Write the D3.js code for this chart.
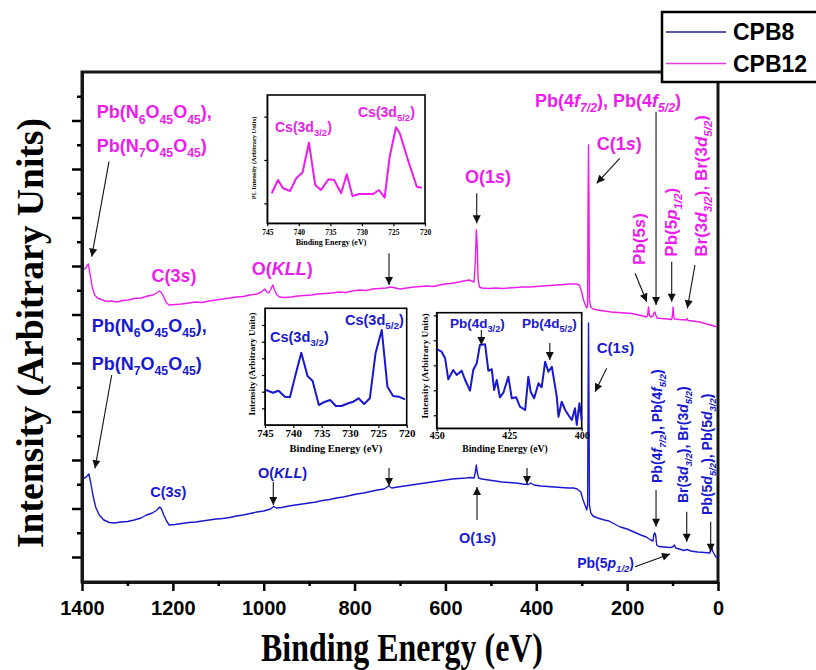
<!DOCTYPE html>
<html><head><meta charset="utf-8">
<script src="https://cdn.jsdelivr.net/npm/d3@7"></script>
<style>body{margin:0;background:#fff}svg{display:block}</style>
</head><body>
<svg id="c" width="816" height="670"></svg>
<script>
// ---------------- DATA ----------------
const seriesNames = ["CPB8", "CPB12"];
// survey spectra: [binding energy (eV), intensity (arb. units)]
const cpb12Survey = [[1398,312],[1392,314],[1386,318],[1382,307],[1377,294],[1372,287],[1366,284],[1355,282],[1345,280.5],[1335,281],[1322,280],[1310,281.5],[1298,282],[1285,283.5],[1270,284],[1255,286],[1244,287],[1236,289],[1230,291],[1226,290],[1220,285],[1214,279],[1208,277],[1195,277.5],[1180,278],[1165,279],[1150,280],[1135,279.5],[1120,281],[1105,282],[1090,283],[1075,284],[1060,285],[1045,285.5],[1030,287],[1015,288],[1005,290],[998,293],[993,290],[989,289],[985,292],[980,297],[976,292],[971,287],[965,285],[955,284.5],[940,285],[925,286],[910,286.5],[895,287],[880,288],[865,288.5],[850,289],[835,290],[820,289.5],[805,291],[790,292],[775,291.5],[760,293],[745,293.5],[730,294],[722,295],[715,294.5],[700,293],[685,294],[670,295],[655,295.5],[640,296],[627,295.5],[612,297],[600,298],[590,298.5],[575,299.5],[560,301],[548,302],[542,301],[537,300],[534,322],[532,352],[530,337],[528,302],[525,295],[520,294],[505,293.5],[490,294],[475,293.5],[460,294],[445,294.5],[430,295],[415,295],[400,295.5],[385,296],[370,296.5],[355,297],[340,297.5],[325,298],[312,298],[305,297],[300,290],[296,282],[292,277],[289,274],[287,276],[286,382],[285,437],[284,382],[283,282],[280,275],[275,273],[265,272],[250,271],[235,270],[220,269.5],[205,269],[190,268.5],[175,267],[165,266],[158,265],[155,266],[153,275],[151,267],[148,265],[143,266],[141,269],[139,270],[137,267],[134,264],[125,263.5],[110,263],[102,262.5],[100,267],[99,275],[97,264],[95,263],[85,262.5],[70,262],[68,263.5],[66,261.5],[55,261],[40,260],[25,258],[12,256.5],[3,255]];
const cpb8Survey = [[1398,105],[1393,104],[1389,106],[1385,108],[1381,100],[1376,87],[1370,75],[1362,67],[1352,62],[1340,59.5],[1328,59],[1315,60],[1300,60.5],[1285,62],[1270,64],[1258,67],[1245,69],[1235,72],[1229,75],[1225,73],[1220,67],[1214,61],[1208,57],[1195,57.5],[1180,58.5],[1165,59.5],[1150,60],[1135,61],[1120,62],[1105,63],[1090,63.5],[1075,64.5],[1060,66],[1045,67],[1030,68.5],[1015,70],[1000,71],[985,73],[978,75.5],[972,74],[960,74.5],[945,76],[930,77],[915,78],[900,79],[885,80],[870,81.5],[855,82.5],[840,84],[825,85],[810,86.5],[795,88],[780,89],[765,90.5],[750,92],[735,93],[725,96],[718,94],[705,95],[690,96],[675,97],[660,98],[645,99],[630,100],[615,101],[600,102],[585,103],[570,103.5],[555,104],[545,104.5],[537,104],[534,110],[532,117],[530,110],[527,104],[520,103],[505,102],[490,101],[475,100],[460,99.5],[445,99],[430,98],[418,97.5],[412,99],[405,97],[390,96],[375,95.5],[360,95],[345,94.5],[330,94],[318,94],[310,93],[302,90],[297,82],[292,76],[289,72],[287,77],[286,182],[285,259],[284,182],[283,77],[280,69],[275,66],[265,64],[250,62],[240,61],[228,58],[215,55],[200,53],[185,50],[170,47],[158,45],[148,42],[143,41],[141,48],[139,49],[137,46],[135,37],[130,35.5],[118,35],[105,34.5],[100,35],[96,37],[93,34],[85,33],[75,31.5],[68,32.5],[60,31],[45,30],[30,29.5],[18,29],[16,33],[14,36],[12,31],[6,26],[2,24]];
// high-resolution insets
const cpb12Cs3d = [[744.3,30],[743.3,43.3],[742.5,35],[741.4,32.3],[740.4,45],[739.4,51],[738.4,80.6],[737.4,38.3],[736.5,33.3],[735.3,44],[734.4,43.3],[733.3,30],[732.4,49],[731.5,27.3],[730.4,29.3],[728.2,29.3],[727.3,33.3],[726.4,25.6],[725.6,66.6],[724.6,96],[724.0,90],[722.7,63.3],[721.3,36.6],[720.5,35.6]];
const cpb8Cs3d = [[744.8,35],[743.6,32.3],[742.6,34.3],[741.5,28.3],[740.6,27.7],[739.7,48.3],[738.6,72.3],[737.5,49],[736.6,44],[735.5,20],[734.4,23.3],[733.5,25],[732.5,19],[731.5,19],[730.3,21.7],[729.4,23.3],[728.5,26.7],[727.5,21],[726.5,26.7],[725.5,71.7],[724.4,95],[723.4,38.3],[722.4,29],[721.4,28.3],[720.3,25.7]];
const cpb8Pb4d = [[449.8,79],[448.3,76.6],[447.1,70],[446,49],[444.3,58.3],[443.1,53.3],[441.4,57.6],[440.2,48.3],[438.5,37.6],[437.4,58.3],[436.2,65],[435.1,83.3],[433.3,84],[432.2,57.6],[431,59],[430.2,38.3],[429.3,48.3],[428.2,31],[427,35.6],[425.3,51.6],[424.1,30],[422.6,31],[421.3,21.6],[419.5,18.3],[418.4,51.6],[417.6,36.6],[416.4,30],[414.9,45],[413.8,41],[412.6,66.6],[411.5,56.6],[410.3,61.6],[408.6,31.6],[408,11.6],[406.9,26.6],[405.7,18.3],[404.6,13.3],[403.4,8.3],[402.3,20],[401.7,3.3],[400.8,25],[400,8.3]];
const xTickLabels = [1400, 1200, 1000, 800, 600, 400, 200, 0];
const xMinorTicks = [1300, 1100, 900, 700, 500, 300, 100];
const csTickLabels = [745, 740, 735, 730, 725, 720];
const pbTickLabels = [450, 425, 400];

// ---------------- STYLE / LAYOUT ----------------
const BLUE = "#1818d2", MAG = "#ec1cec", BLUE_LEG = "#22228c", MAG_LEG = "#e03ce0";
const INK = "#161616";
const SANS = "'Liberation Sans', Arial, sans-serif";
const SERIF = "'Liberation Serif', 'Times New Roman', serif";
const svg = d3.select("#c");
const M = {l: 82, r: 718, t: 72, b: 582};
const x = d3.scaleLinear().domain([1400, 0]).range([M.l, M.r]);
const y = d3.scaleLinear().domain([0, 510]).range([M.b, M.t]);

// plot frame
svg.append("rect").attr("x", M.l).attr("y", M.t).attr("width", M.r - M.l).attr("height", M.b - M.t)
  .attr("fill", "none").attr("stroke", INK).attr("stroke-width", 3);

svg.append("defs").append("marker")
  .attr("id", "ah").attr("viewBox", "0 0 10 10").attr("refX", 10).attr("refY", 5)
  .attr("markerWidth", 10).attr("markerHeight", 8).attr("markerUnits", "userSpaceOnUse")
  .attr("orient", "auto")
  .append("path").attr("d", "M0,0 L10,5 L0,10 z").attr("fill", "#111");

function rich(sel, str, size) {
  const re = /<(sub|i|isub)>(.*?)<\/\1>|([^<]+)/g;
  let m, shift = 0;
  const sub = size * 0.3;
  while ((m = re.exec(str))) {
    let txt, target = 0, fs = size, it = false;
    if (m[3] !== undefined) txt = m[3];
    else {
      txt = m[2];
      if (m[1] === "i") it = true;
      if (m[1] === "sub" || m[1] === "isub") { target = sub; fs = size * 0.68; }
      if (m[1] === "isub") it = true;
    }
    const t = sel.append("tspan").attr("dy", target - shift).attr("font-size", fs).text(txt);
    if (it) t.attr("font-style", "italic");
    shift = target;
  }
  return sel;
}
function label(g, str, px, py, size, color, opt = {}) {
  const t = g.append("text").attr("font-family", opt.family || SANS)
    .attr("font-weight", opt.weight || "bold").attr("fill", color)
    .attr("text-anchor", opt.anchor || "start");
  if (opt.rotate) t.attr("transform", `translate(${px},${py}) rotate(-90)`);
  else t.attr("x", px).attr("y", py);
  rich(t, str, size);
  return t;
}
function arrow(g, x1, y1, x2, y2) {
  g.append("line").attr("x1", x1).attr("y1", y1).attr("x2", x2).attr("y2", y2)
    .attr("stroke", "#111").attr("stroke-width", 1.1).attr("marker-end", "url(#ah)");
}

// ---------------- MAIN CURVES ----------------
const curve = d3.line().x(d => x(d[0])).y(d => y(d[1]));
svg.append("path").datum(cpb12Survey).attr("d", curve).attr("fill", "none")
  .attr("stroke", MAG).attr("stroke-width", 1.4).attr("stroke-linejoin", "round");
svg.append("path").datum(cpb8Survey).attr("d", curve).attr("fill", "none")
  .attr("stroke", BLUE).attr("stroke-width", 1.4).attr("stroke-linejoin", "round");

// ---------------- AXES ----------------
const axG = svg.append("g");
const xAx = axG.append("g").attr("transform", `translate(0,${M.b})`)
  .call(d3.axisBottom(x).tickValues(xTickLabels).tickSize(9).tickSizeOuter(0).tickPadding(10).tickFormat(d3.format("d")));
axG.append("g").attr("transform", `translate(0,${M.b})`)
  .call(d3.axisBottom(x).tickValues(xMinorTicks).tickSize(4).tickSizeOuter(0).tickFormat(""));
const yMajor = d3.range(25, 500, 48.5), yMinor = d3.range(49.25, 505, 48.5);
axG.append("g").attr("transform", `translate(${M.l},0)`)
  .call(d3.axisLeft(y).tickValues(yMajor).tickSize(10).tickSizeOuter(0).tickFormat(""));
axG.append("g").attr("transform", `translate(${M.l},0)`)
  .call(d3.axisLeft(y).tickValues(yMinor).tickSize(5).tickSizeOuter(0).tickFormat(""));
axG.selectAll(".domain").attr("stroke", INK).attr("stroke-width", 3);
axG.selectAll(".tick line").attr("stroke", "#000").attr("stroke-width", 2.5);
xAx.selectAll("text").attr("font-family", SANS).attr("font-weight", "bold").attr("font-size", 20).attr("fill", "#000");

svg.append("text").attr("x", 402).attr("y", 661).attr("text-anchor", "middle")
  .attr("font-family", SERIF).attr("font-weight", "bold").attr("font-size", 39)
  .attr("textLength", 282).attr("lengthAdjust", "spacingAndGlyphs").text("Binding Energy (eV)");
svg.append("text").attr("transform", "translate(43,333) rotate(-90)").attr("text-anchor", "middle")
  .attr("font-family", SERIF).attr("font-weight", "bold").attr("font-size", 37)
  .attr("textLength", 430).attr("lengthAdjust", "spacingAndGlyphs").text("Intensity (Arbitrary Units)");

// ---------------- ANNOTATIONS ----------------
const ann = svg.append("g");
label(ann, "Pb(N<sub>6</sub>O<sub>45</sub>O<sub>45</sub>),", x(1367.6), y(463.7), 18, MAG);
label(ann, "Pb(N<sub>7</sub>O<sub>45</sub>O<sub>45</sub>)", x(1367.6), y(430.3), 18, MAG);
arrow(ann, x(1340.6), y(420.3), x(1378.6), y(325.3));
label(ann, "C(3<i>s</i>)", x(1197.5), y(300.3), 18, MAG, {anchor: "middle"});
label(ann, "O(<i>KLL</i>)", x(1026.4), y(307), 18, MAG);
arrow(ann, x(724.2), y(328.7), x(724.2), y(297));
label(ann, "O(1<i>s</i>)", x(556.9), y(398.7), 18, MAG);
arrow(ann, x(531.1), y(388.7), x(531.1), y(358.7));
label(ann, "C(1<i>s</i>)", x(267), y(432), 18, MAG);
arrow(ann, x(216.4), y(423.7), x(267), y(398.7));
label(ann, "Pb(4<i>f</i><isub>7/2</isub>), Pb(4<i>f</i><isub>5/2</isub>)", x(402.8), y(475.3), 18, MAG);
arrow(ann, x(136.4), y(470.3), x(136.4), y(277));
label(ann, "Pb(5<i>s</i>)", x(160.6), y(317), 17, MAG, {rotate: true});
arrow(ann, x(182.6), y(308.7), x(156.9), y(280.3));
label(ann, "Pb(5<i>p</i><isub>1/2</isub>)", x(90.2), y(325.3), 17, MAG, {rotate: true});
arrow(ann, x(101.9), y(320.3), x(101.9), y(280.3));
label(ann, "Br(3<i>d</i><isub>3/2</isub>), Br(3<i>d</i><isub>5/2</isub>)", x(24.2), y(325.3), 17, MAG, {rotate: true});
arrow(ann, x(50.7), y(317), x(67.5), y(273.7));
label(ann, "Pb(N<sub>6</sub>O<sub>45</sub>O<sub>45</sub>),", x(1378.6), y(250.3), 18, BLUE);
label(ann, "Pb(N<sub>7</sub>O<sub>45</sub>O<sub>45</sub>)", x(1378.6), y(212), 18, BLUE);
arrow(ann, x(1334.6), y(207), x(1371.4), y(113.7));
label(ann, "C(3<i>s</i>)", x(1210), y(85.3), 14.5, BLUE, {anchor: "middle"});
label(ann, "O(<i>KLL</i>)", x(1012.6), y(103.7), 14.5, BLUE);
arrow(ann, x(978.9), y(100.3), x(978.9), y(77));
arrow(ann, x(724.2), y(114), x(724.2), y(96));
arrow(ann, x(420.4), y(114), x(420.4), y(98));
label(ann, "O(1<i>s</i>)", x(570), y(39), 14.5, BLUE);
arrow(ann, x(530.5), y(62), x(530.5), y(95));
label(ann, "C(1<i>s</i>)", x(267), y(228.7), 15, BLUE);
arrow(ann, x(245), y(213.7), x(270.7), y(190.3));
label(ann, "Pb(4<i>f</i><isub>7/2</isub>), Pb(4<i>f</i><isub>5/2</isub>)", x(123.2), y(99), 14, BLUE, {rotate: true});
arrow(ann, x(136.4), y(92), x(136.4), y(55.3));
label(ann, "Br(3<i>d</i><isub>3/2</isub>), Br(3<i>d</i><isub>5/2</isub>)", x(65.9), y(79), 14, BLUE, {rotate: true});
arrow(ann, x(68.8), y(70.3), x(68.8), y(40.3));
label(ann, "Pb(5<i>d</i><isub>5/2</isub>), Pb(5<i>d</i><isub>3/2</isub>)", x(13.2), y(67), 14, BLUE, {rotate: true});
arrow(ann, x(16.1), y(60.3), x(16.1), y(30.3));
label(ann, "Pb(5<i>p</i><isub>1/2</isub>)", x(184.9), y(14), 14, BLUE, {anchor: "end"});
arrow(ann, x(182.6), y(15.3), x(105.6), y(28));

// ---------------- INSETS ----------------
function inset(cfg) {
  const g = svg.append("g");
  const xs = d3.scaleLinear().domain(cfg.xDomain).range([cfg.l, cfg.r]);
  const ys = d3.scaleLinear().domain([0, cfg.h]).range([cfg.b, cfg.t]);
  g.append("rect").attr("x", cfg.l).attr("y", cfg.t).attr("width", cfg.r - cfg.l).attr("height", cfg.b - cfg.t)
    .attr("fill", "#fff").attr("stroke", "#000").attr("stroke-width", 1.6);
  const ax = g.append("g").attr("transform", `translate(0,${cfg.b})`)
    .call(d3.axisBottom(xs).tickValues(cfg.ticks).tickSize(3).tickSizeOuter(0).tickPadding(cfg.pad).tickFormat(d3.format("d")));
  ax.selectAll("text").attr("font-family", SERIF).attr("font-weight", "bold").attr("font-size", cfg.tickFs).attr("fill", "#000");
  g.append("g").attr("transform", `translate(${cfg.l},0)`)
    .call(d3.axisLeft(ys).tickValues(cfg.yTicks).tickSize(3).tickSizeOuter(0).tickFormat(""));
  g.selectAll(".tick line").attr("stroke-width", 1.2);
  g.append("path").datum(cfg.data).attr("fill", "none").attr("stroke", cfg.color).attr("stroke-width", 2)
    .attr("stroke-linejoin", "round")
    .attr("d", d3.line().x(d => xs(d[0])).y(d => ys(d[1])));
  g.append("text").attr("x", cfg.xtX).attr("y", cfg.xtY).attr("text-anchor", "middle")
    .attr("font-family", SERIF).attr("font-weight", "bold").attr("font-size", cfg.xtFs).text("Binding Energy (eV)");
  g.append("text").attr("transform", `translate(${cfg.ytX},${cfg.ytY}) rotate(-90)`).attr("text-anchor", "middle")
    .attr("font-family", SERIF).attr("font-weight", "bold").attr("font-size", cfg.ytFs).text(cfg.yTitle);
  return {g, xs, ys};
}

const i1 = inset({xDomain: [745, 720], l: 267.3, r: 425, t: 95, b: 223.3, h: 128.3, data: cpb12Cs3d, color: MAG,
  ticks: csTickLabels, yTicks: [20, 63.3, 106.6], pad: 3, tickFs: 7.5,
  xtX: 331, xtY: 244.5, xtFs: 8, ytX: 256, ytY: 158, ytFs: 6.4, yTitle: "PL Intensity (Arbitrary Units)"});
label(i1.g, "Cs(3d<sub>3/2</sub>)", 275, 131.7, 14, MAG);
label(i1.g, "Cs(3d<sub>5/2</sub>)", 358, 117, 14, MAG);
const i2 = inset({xDomain: [745, 720], l: 265, r: 406.7, t: 308.3, b: 425, h: 116.7, data: cpb8Cs3d, color: BLUE,
  ticks: csTickLabels, yTicks: [16.7, 33.3, 50, 66.7, 83.3, 100], pad: 1.5, tickFs: 11,
  xtX: 336, xtY: 452, xtFs: 10.5, ytX: 255, ytY: 364, ytFs: 9, yTitle: "Intensity (Arbitrary Units)"});
label(i2.g, "Cs(3d<sub>3/2</sub>)", 270, 341.7, 14.5, BLUE);
label(i2.g, "Cs(3d<sub>5/2</sub>)", 345, 325, 14.5, BLUE);
const i3 = inset({xDomain: [450, 400], l: 436.7, r: 581.7, t: 312.7, b: 428.3, h: 115.6, data: cpb8Pb4d, color: BLUE,
  ticks: pbTickLabels, yTicks: [13, 38, 63, 88, 113], pad: 1, tickFs: 10,
  xtX: 505, xtY: 452, xtFs: 9.7, ytX: 428, ytY: 366, ytFs: 9.2, yTitle: "Intensity (Arbitrary Units)"});
label(i3.g, "Pb(4d<sub>3/2</sub>)", 450, 328, 13.5, BLUE);
label(i3.g, "Pb(4d<sub>5/2</sub>)", 522, 328, 13.5, BLUE);
arrow(i3.g, i3.xs(434.6), 330, i3.xs(434.6), 345);
arrow(i3.g, i3.xs(411), 343, i3.xs(411), 360);

// ---------------- LEGEND ----------------
const leg = svg.append("g");
leg.append("rect").attr("x", 662).attr("y", 12).attr("width", 200).attr("height", 70)
  .attr("fill", "#fff").attr("stroke", "#000").attr("stroke-width", 2.5);
const legColors = [BLUE_LEG, MAG_LEG];
seriesNames.forEach((n, i) => {
  const yy = 32 + i * 31.5;
  leg.append("line").attr("x1", 666).attr("x2", 726).attr("y1", yy).attr("y2", yy)
    .attr("stroke", legColors[i]).attr("stroke-width", 1.5);
  leg.append("text").attr("x", 733).attr("y", yy + 8).attr("font-family", SANS)
    .attr("font-weight", "bold").attr("font-size", 23).text(n);
});
</script>
</body></html>
